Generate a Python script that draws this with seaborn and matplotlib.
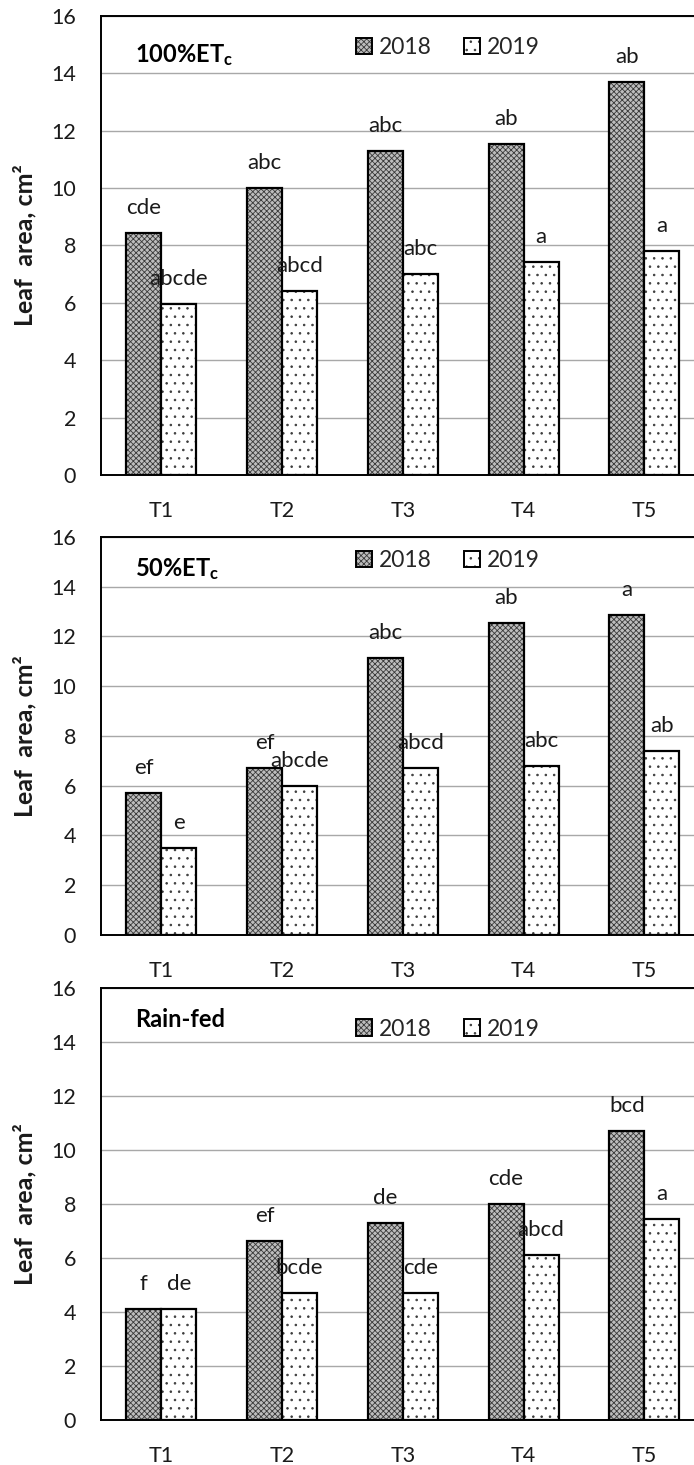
import numpy as np
import pandas as pd
import matplotlib
matplotlib.use("Agg")
import matplotlib.pyplot as plt
import matplotlib.colors as mcolors
from matplotlib.patches import Patch
import seaborn as sns

# ---- data ----
treatments = ["T1", "T2", "T3", "T4", "T5"]
years = ["2018", "2019"]

full_2018 = [8.45, 10.0, 11.28, 11.52, 13.7]
full_2019 = [5.95, 6.42, 7.02, 7.42, 7.82]
full_lab_2018 = ["cde", "abc", "abc", "ab", "ab"]
full_lab_2019 = ["abcde", "abcd", "abc", "a", "a"]

half_2018 = [5.7, 6.7, 11.15, 12.55, 12.85]
half_2019 = [3.5, 6.0, 6.7, 6.8, 7.4]
half_lab_2018 = ["ef", "ef", "abc", "ab", "a"]
half_lab_2019 = ["e", "abcde", "abcd", "abc", "ab"]

rain_2018 = [4.1, 6.62, 7.3, 8.0, 10.7]
rain_2019 = [4.1, 4.72, 4.72, 6.1, 7.45]
rain_lab_2018 = ["f", "ef", "de", "cde", "bcd"]
rain_lab_2019 = ["de", "bcde", "cde", "abcd", "a"]

panel_titles = [r"$\mathbf{100\%ET_c}$", r"$\mathbf{50\%ET_c}$", "Rain-fed"]
y_ticks = [0, 2, 4, 6, 8, 10, 12, 14, 16]

panels = [
    (full_2018, full_2019, full_lab_2018, full_lab_2019),
    (half_2018, half_2019, half_lab_2018, half_lab_2019),
    (rain_2018, rain_2019, rain_lab_2018, rain_lab_2019),
]

# ---- style ----
sns.set_theme(style="white")
plt.rcParams["font.family"] = ["Lato", "DejaVu Sans"]
plt.rcParams["mathtext.fontset"] = "custom"
plt.rcParams["mathtext.rm"] = "Lato"
plt.rcParams["mathtext.bf"] = "Lato:bold"
plt.rcParams["hatch.linewidth"] = 0.6

STYLE = {
    "2018": dict(face="#bdbdbd", hatch="xxxxxx", hcolor="#3a3a3a"),
    "2019": dict(face="white", hatch="..", hcolor="#3a3a3a"),
}


def style_patch(p, year):
    s = STYLE[year]
    p.set_facecolor(s["face"])
    p.set_hatch(s["hatch"])
    p.set_edgecolor("black")
    p.set_linewidth(1.6)
    p._hatch_color = mcolors.to_rgba(s["hcolor"])


fig = plt.figure(figsize=(6.94, 14.65), dpi=100)

# axes rectangles in figure fractions (left, bottom, width, height)
rects = [
    (0.1455, 0.6758, 0.870, 0.3133),
    (0.1455, 0.3618, 0.870, 0.2717),
    (0.1455, 0.0307, 0.870, 0.2949),
]
title_y = [0.915, 0.92, 0.928]
legend_y = [0.932, 0.94, 0.905]

for i, (v18, v19, l18, l19) in enumerate(panels):
    ax = fig.add_axes(rects[i])
    df = pd.DataFrame({
        "treatment": treatments * 2,
        "year": ["2018"] * 5 + ["2019"] * 5,
        "value": list(v18) + list(v19),
    })
    sns.barplot(data=df, x="treatment", y="value", hue="year",
                order=treatments, hue_order=years, width=0.58,
                palette=["white", "white"], saturation=1,
                errorbar=None, legend=False, ax=ax, zorder=3)

    labels = {"2018": l18, "2019": l19}
    for year, cont in zip(years, ax.containers):
        for bar, lab in zip(cont, labels[year]):
            style_patch(bar, year)
            ax.annotate(lab, (bar.get_x() + bar.get_width() / 2, bar.get_height()),
                        xytext=(0, 18), textcoords="offset points",
                        ha="center", va="center", fontsize=16, color="#1a1a1a",
                        zorder=5)

    ax.set_xlim(-0.5, 4.5)
    ax.set_ylim(0, 16)
    ax.set_yticks(y_ticks)
    ax.yaxis.grid(True, color="#a8a8a8", linewidth=1.0, zorder=0)
    ax.set_axisbelow(True)
    ax.tick_params(axis="both", length=0, labelsize=15.5, colors="#1a1a1a")
    ax.tick_params(axis="y", pad=18)
    ax.tick_params(axis="x", pad=19)
    ax.set_xlabel("")
    ax.set_ylabel("")
    for side in ["left", "bottom", "top"]:
        ax.spines[side].set_visible(True)
        ax.spines[side].set_color("black")
        ax.spines[side].set_linewidth(1.4)
    ax.spines["right"].set_visible(False)

    ax.text(-0.127, 0.5, "Leaf  area, cm²", transform=ax.transAxes,
            rotation=90, ha="center", va="center", fontsize=18,
            fontweight="bold", color="#1a1a1a")

    ax.text(0.056, title_y[i], panel_titles[i], transform=ax.transAxes,
            ha="left", va="center", fontsize=17, fontweight="bold",
            color="black")

    handles = []
    for year in years:
        h = Patch(label=year)
        style_patch(h, year)
        h.set_linewidth(1.4)
        handles.append(h)
    ax.legend(handles=handles, loc="center", bbox_to_anchor=(0.575, legend_y[i]),
              ncol=2, frameon=False, fontsize=16.5, handlelength=0.7,
              handleheight=0.7, handletextpad=0.3, columnspacing=1.4,
              borderpad=0, borderaxespad=0)

fig.savefig("out.png", dpi=100)
